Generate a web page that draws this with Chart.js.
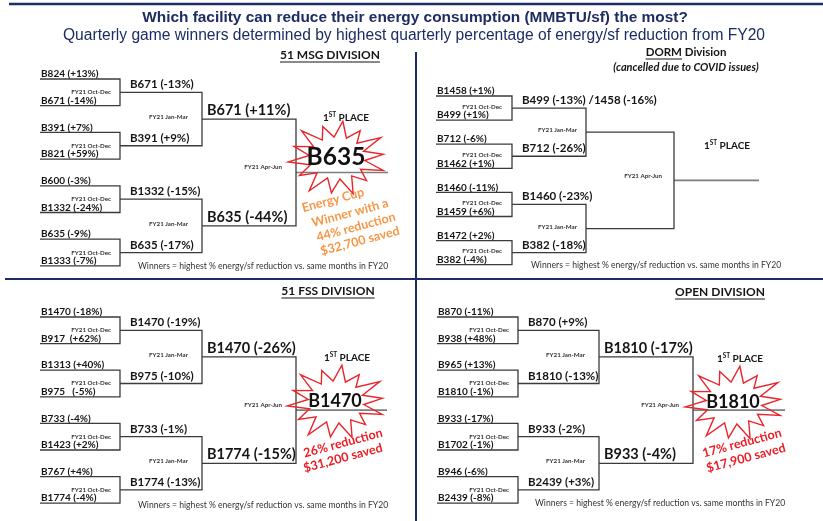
<!DOCTYPE html>
<html>
<head>
<meta charset="utf-8">
<title>Energy Cup Bracket</title>
<script src="https://cdn.jsdelivr.net/npm/chart.js"></script>
<style>
  html, body { margin: 0; padding: 0; background: #fff; }
  #bracket { display: block; }
</style>
</head>
<body>
<canvas id="bracket" width="823" height="521"></canvas>
<script>
// quarter played in each bracket column
const quarters = ['FY21 Oct-Dec', 'FY21 Jan-Mar', 'FY21 Apr-Jun'];

// 51 MSG division
const msgRound1 = ['B824 (+13%)', 'B671 (-14%)', 'B391 (+7%)', 'B821 (+59%)', 'B600 (-3%)', 'B1332 (-24%)', 'B635 (-9%)', 'B1333 (-7%)'];
const msgRound2 = ['B671 (-13%)', 'B391 (+9%)', 'B1332 (-15%)', 'B635 (-17%)'];
const msgRound3 = ['B671 (+11%)', 'B635 (-44%)'];
const msgChampion = 'B635';
const msgCallout = ['Energy Cup', 'Winner with a', '44% reduction', '$32,700 saved'];

// DORM division (cancelled)
const dormRound1 = ['B1458 (+1%)', 'B499 (+1%)', 'B712 (-6%)', 'B1462 (+1%)', 'B1460 (-11%)', 'B1459 (+6%)', 'B1472 (+2%)', 'B382 (-4%)'];
const dormRound2 = ['B499 (-13%) /1458 (-16%)', 'B712 (-26%)', 'B1460 (-23%)', 'B382 (-18%)'];
const dormRound3 = [];
const dormChampion = '';
const dormCallout = [];

// 51 FSS division
const fssRound1 = ['B1470 (-18%)', 'B917  (+62%)', 'B1313 (+40%)', 'B975   (-5%)', 'B733 (-4%)', 'B1423 (+2%)', 'B767 (+4%)', 'B1774 (-4%)'];
const fssRound2 = ['B1470 (-19%)', 'B975 (-10%)', 'B733 (-1%)', 'B1774 (-13%)'];
const fssRound3 = ['B1470 (-26%)', 'B1774 (-15%)'];
const fssChampion = 'B1470';
const fssCallout = ['26% reduction', '$31,200 saved'];

// OPEN division
const openRound1 = ['B870 (-11%)', 'B938 (+48%)', 'B965 (+13%)', 'B1810 (-1%)', 'B933 (-17%)', 'B1702 (-1%)', 'B946 (-6%)', 'B2439 (-8%)'];
const openRound2 = ['B870 (+9%)', 'B1810 (-13%)', 'B933 (-2%)', 'B2439 (+3%)'];
const openRound3 = ['B1810 (-17%)', 'B933 (-4%)'];
const openChampion = 'B1810';
const openCallout = ['17% reduction', '$17,900 saved'];

const noteText = 'Winners = highest % energy/sf reduction vs. same months in FY20';

// where each division sits on the page (page units = px)
const divisions = [
  { rounds: [msgRound1, msgRound2, msgRound3], champ: msgChampion, callout: msgCallout,
    lay: { cols: [40, 120, 202, 296, 388], top: 79, step: 26.7,
           head: [330, 55], place: [346, 118], star: [337, 158, 49, 37], champSize: 24.5,
           note: [138, 266], qOff: [9, 14, 14], qLift: [0, 2, 5],
           calloutColor: '#f79646', calloutAt: [[333, 200], [350, 213], [356, 227], [360, 241]] } },
  { rounds: [dormRound1, dormRound2, dormRound3], champ: dormChampion, callout: dormCallout,
    lay: { cols: [436, 512, 586, 674, 759], top: 96, step: 24.1,
           head: [686, 52], place: [727, 146], star: null, champSize: 18,
           note: [531, 265], qOff: [10, 9, 12], qLift: [1.5, 2, 4],
           calloutColor: '#e8262b', calloutAt: [] } },
  { rounds: [fssRound1, fssRound2, fssRound3], champ: fssChampion, callout: fssCallout,
    lay: { cols: [40, 120, 202, 296, 387], top: 317, step: 26.6,
           head: [328, 291], place: [347, 358], star: [336, 402, 49, 37], champSize: 18,
           note: [138, 505], qOff: [9, 14, 14], qLift: [0, 2, 5],
           calloutColor: '#ec1c24', calloutAt: [[343, 443], [343, 458]] } },
  { rounds: [openRound1, openRound2, openRound3], champ: openChampion, callout: openCallout,
    lay: { cols: [437, 518, 599, 693, 785], top: 317, step: 26.6,
           head: [720, 292], place: [740, 359], star: [734, 403, 49, 37], champSize: 18,
           note: [535, 503], qOff: [9, 14, 14], qLift: [0, 2, 5],
           calloutColor: '#ec1c24', calloutAt: [[742, 443], [746, 458]] } }
];
const slotCounts = [8, 4, 2];

function slotY(lay, r, i) {
  return lay.top + lay.step * ((i + 0.5) * Math.pow(2, r) - 0.5);
}

// bracket lines -> scatter datasets
const datasets = [];
divisions.forEach(d => {
  const L = d.lay;
  for (let r = 0; r < 3; r++) {
    for (let k = 0; k < slotCounts[r] / 2; k++) {
      const ya = slotY(L, r, 2 * k), yb = slotY(L, r, 2 * k + 1);
      datasets.push({
        data: [{ x: L.cols[r], y: ya }, { x: L.cols[r + 1], y: ya }, { x: L.cols[r + 1], y: yb }, { x: L.cols[r], y: yb }],
        showLine: true, borderColor: '#3b3b3b', borderWidth: 1.3, pointRadius: 0, tension: 0
      });
    }
  }
  const yf = slotY(L, 3, 0);
  datasets.push({
    data: [{ x: L.cols[3], y: yf }, { x: L.cols[4], y: yf }],
    showLine: true, borderColor: '#7d7d7d', borderWidth: 1.6, pointRadius: 0
  });
});

const FONT = 'Lato, "Open Sans", sans-serif';
const NAVY = '#1d2c63';

const framePlugin = {
  id: 'frame',
  beforeDatasetsDraw(chart) {
    const c = chart.ctx, sx = chart.scales.x, sy = chart.scales.y;
    const X = v => sx.getPixelForValue(v), Y = v => sy.getPixelForValue(v);
    c.save();
    c.strokeStyle = NAVY;
    c.lineWidth = 2.5;
    c.beginPath(); c.moveTo(X(9), Y(4)); c.lineTo(X(823), Y(4)); c.stroke();
    c.lineWidth = 2;
    c.beginPath(); c.moveTo(X(416), Y(52)); c.lineTo(X(416), Y(521)); c.stroke();
    c.beginPath(); c.moveTo(X(5), Y(279)); c.lineTo(X(823), Y(279)); c.stroke();
    c.textAlign = 'center';
    c.fillStyle = NAVY;
    c.font = 'bold 15.4px "Liberation Sans", Arial, sans-serif';
    c.fillText('Which facility can reduce their energy consumption (MMBTU/sf) the most?', X(415), Y(22));
    c.font = '15.6px "Liberation Sans", Arial, sans-serif';
    c.fillText('Quarterly game winners determined by highest quarterly percentage of energy/sf reduction from FY20', X(414), Y(40));
    c.restore();
  }
};

function drawStar(c, cx, cy, rx, ry) {
  const spikes = [1, 0.88, 1.05, 0.95, 1, 0.86, 1.02, 0.95, 1.05, 0.9, 1, 0.93, 1.03, 0.9];
  const n = spikes.length;
  c.beginPath();
  for (let i = 0; i < n * 2; i++) {
    const a = -Math.PI / 2 + (i * Math.PI) / n + 0.12;
    const m = i % 2 === 0 ? spikes[i / 2] : 0.57;
    const px = cx + Math.cos(a) * rx * m, py = cy + Math.sin(a) * ry * m;
    if (i === 0) c.moveTo(px, py); else c.lineTo(px, py);
  }
  c.closePath();
  c.strokeStyle = '#e8262b';
  c.lineWidth = 1.4;
  c.stroke();
}

const labelPlugin = {
  id: 'labels',
  afterDatasetsDraw(chart) {
    const c = chart.ctx, sx = chart.scales.x, sy = chart.scales.y;
    const X = v => sx.getPixelForValue(v), Y = v => sy.getPixelForValue(v);
    c.save();
    divisions.forEach((d, di) => {
      const L = d.lay;
      c.fillStyle = '#151515';
      c.textAlign = 'left';
      c.textBaseline = 'alphabetic';
      // team labels
      const sizes = [10, 11.5, 14.5], xOff = [1, 10, 5], lift = [1.8, 4, 4];
      d.rounds.forEach((arr, r) => {
        c.font = 'bold ' + sizes[r] + 'px ' + FONT;
        arr.forEach((t, i) => c.fillText(t, X(L.cols[r] + xOff[r]), Y(slotY(L, r, i) - lift[r])));
      });
      // quarter labels
      c.textAlign = 'right';
      c.textBaseline = 'middle';
      c.font = 'bold 6.2px ' + FONT;
      c.fillStyle = '#333';
      for (let r = 0; r < 3; r++) {
        const n = r < 2 ? slotCounts[r] / 2 : 1;
        for (let k = 0; k < n; k++) {
          c.fillText(quarters[r], X(L.cols[r + 1] - L.qOff[r]), Y(slotY(L, r + 1, k) - L.qLift[r]));
        }
      }
      // division heading
      c.fillStyle = '#151515';
      c.textAlign = 'left';
      c.textBaseline = 'middle';
      c.lineWidth = 1;
      c.strokeStyle = '#151515';
      if (di === 1) {
        c.font = 'bold 11.5px ' + FONT;
        const w1 = c.measureText('DORM').width, w = c.measureText('DORM Division').width;
        const x0 = X(L.head[0]) - w / 2, y0 = Y(L.head[1]);
        c.fillText('DORM Division', x0, y0);
        c.beginPath(); c.moveTo(x0, y0 + 7); c.lineTo(x0 + w1, y0 + 7); c.stroke();
        c.textAlign = 'center';
        c.font = 'italic bold 11px ' + FONT;
        c.fillText('(cancelled due to COVID issues)', X(L.head[0]), Y(L.head[1] + 15));
      } else {
        const heads = ['51 MSG DIVISION', '', '51 FSS DIVISION', 'OPEN DIVISION'];
        c.font = 'bold 12px ' + FONT;
        const w = c.measureText(heads[di]).width;
        const x0 = X(L.head[0]) - w / 2, y0 = Y(L.head[1]);
        c.fillText(heads[di], x0, y0);
        c.beginPath(); c.moveTo(x0, y0 + 7); c.lineTo(x0 + w, y0 + 7); c.stroke();
      }
      // 1st place
      c.font = 'bold 10px ' + FONT;
      const wa = c.measureText('1').width, wc = c.measureText(' PLACE').width;
      c.font = 'bold 6.5px ' + FONT;
      const wb = c.measureText('ST').width;
      let px = X(L.place[0]) - (wa + wb + wc) / 2;
      const py = Y(L.place[1]);
      c.textAlign = 'left';
      c.font = 'bold 10px ' + FONT; c.fillText('1', px, py);
      c.font = 'bold 6.5px ' + FONT; c.fillText('ST', px + wa, py - 3);
      c.font = 'bold 10px ' + FONT; c.fillText(' PLACE', px + wa + wb, py);
      // notes
      c.font = '8.6px ' + FONT;
      c.fillStyle = '#333';
      c.fillText(noteText, X(L.note[0]), Y(L.note[1]));
      // champion star
      if (L.star) {
        drawStar(c, X(L.star[0]), Y(L.star[1]), L.star[2], L.star[3]);
        c.fillStyle = '#111';
        c.textAlign = 'center';
        c.font = 'bold ' + L.champSize + 'px ' + FONT;
        c.fillText(d.champ, X(L.star[0]) - 1, Y(L.star[1]) - 1);
      }
      // callout text
      c.fillStyle = L.calloutColor;
      c.textAlign = 'center';
      c.font = 'bold 12.5px ' + FONT;
      d.callout.forEach((t, i) => {
        const p = L.calloutAt[i];
        c.save();
        c.translate(X(p[0]), Y(p[1]));
        c.rotate(-15 * Math.PI / 180);
        c.fillText(t, 0, 0);
        c.restore();
      });
    });
    c.restore();
  }
};

new Chart(document.getElementById('bracket').getContext('2d'), {
  type: 'scatter',
  data: { datasets: datasets },
  options: {
    responsive: false,
    animation: false,
    devicePixelRatio: 1,
    layout: { padding: 0 },
    scales: {
      x: { type: 'linear', min: 0, max: 823, display: false },
      y: { type: 'linear', min: 0, max: 521, reverse: true, display: false }
    },
    plugins: { legend: { display: false }, tooltip: { enabled: false } }
  },
  plugins: [framePlugin, labelPlugin]
});
</script>
</body>
</html>
